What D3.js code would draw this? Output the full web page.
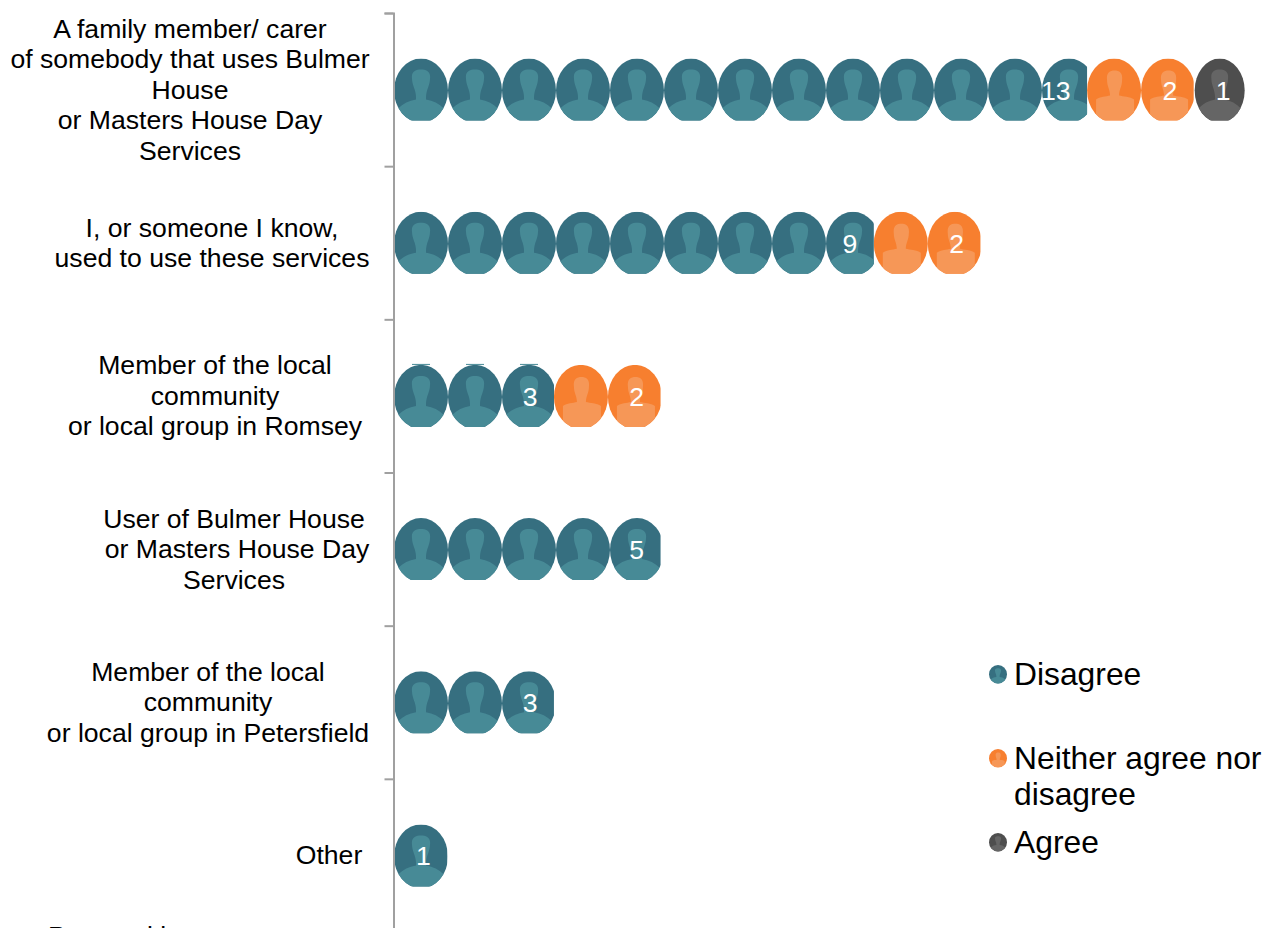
<!DOCTYPE html>
<html>
<head>
<meta charset="utf-8">
<script src="https://cdn.jsdelivr.net/npm/d3@7"></script>
<style>
  html, body { margin: 0; padding: 0; background: #fff; overflow: hidden; }
  text { font-family: "Liberation Sans", Arial, sans-serif; }
</style>
</head>
<body>
<script>
var categories = [
  ["A family member/ carer", "of somebody that uses Bulmer", "House", "or Masters House Day", "Services"],
  ["I, or someone I know,", "used to use these services"],
  ["Member of the local", "community", "or local group in Romsey"],
  ["User of Bulmer House", "or Masters House Day", "Services"],
  ["Member of the local", "community", "or local group in Petersfield"],
  ["Other"]
];
var seriesNames = ["Disagree", "Neither agree nor disagree", "Agree"];
var disagree = [13, 9, 3, 5, 3, 1];
var neither = [2, 2, 2, 0, 0, 0];
var agree = [1, 0, 0, 0, 0, 0];
var footnote = "Personal interest";

var width = 1275, height = 928;
var axisX = 394, tileW = 54, barH = 62;

// centre of each label block, the source has them all slightly different
var labelCentre = [[190, 190, 190, 190, 190], [212, 212], [215, 215, 215], [234, 237, 234], [208, 208, 208], [329]];

var colours = [
  { dark: "#366f80", light: "#478a96" },
  { dark: "#f77f2f", light: "#f69757" },
  { dark: "#4e4e4e", light: "#656565" }
];

var rows = categories.map(function(c, i) { return { i: i, lines: c, vals: [disagree[i], neither[i], agree[i]] }; });

var x = d3.scaleLinear().domain([0, 16]).range([axisX, 1247]);
var yEdge = d3.scaleLinear().domain([0, 6]).range([13, 932]);
var y = d3.scaleBand().domain(d3.range(6)).range([13, 932]);

var svg = d3.select("body").append("svg").attr("width", width).attr("height", height);
var defs = svg.append("defs");

var clipCount = 0;

// one person icon, drawn in a 54x62 tile
function drawIcon(g, s, w) {
  var k = w / tileW;
  var inner = g.append("g").attr("transform", "scale(" + k + ",1)");
  var clipId = "head-" + (clipCount++);
  defs.append("clipPath").attr("id", clipId).append("ellipse")
      .attr("cx", 27).attr("cy", 32).attr("rx", 27).attr("ry", 32);
  inner.append("ellipse").attr("cx", 27).attr("cy", 32).attr("rx", 27).attr("ry", 32)
      .attr("fill", colours[s].dark);
  var person = inner.append("g").attr("clip-path", "url(#" + clipId + ")").attr("fill", colours[s].light);
  if (s === 1) {
    person.append("path").attr("d", "M20,22 C19,14 23,12 27.5,12 C32,12 36,14 35,22 C35,28 32,31 32,37 C36,38 43,38 47,41 L47,62 L9,62 L9,41 C13,38 19,38 23,37 C23,31 20,28 20,22 Z");
  } else {
    person.append("path").attr("d", "M18,20 C17,13 22,11 27,11 C32,11 37,13 36,20 C36,27 32,31 32,39 L32,41 C39,42 45,45 50,50 L50,66 L4,66 L4,50 C9,45 15,42 22,41 L22,39 C22,31 18,27 18,20 Z");
  }
}

rows.forEach(function(r) {
  var top = y(r.i) + (y.bandwidth() - barH) / 2;
  var total = 0;
  r.vals.forEach(function(v, s) {
    if (!v) return;
    var x0 = x(total), x1 = x(total + v);
    total += v;
    var id = "bar-" + r.i + "-" + s;
    defs.append("clipPath").attr("id", id).append("rect")
        .attr("x", x0).attr("y", top).attr("width", x1 - x0).attr("height", barH);
    var bar = svg.append("g").attr("clip-path", "url(#" + id + ")");
    // grey icon is squeezed in the source, others are tiled at a fixed size and cut at the bar end
    var w = s === 2 ? 50 : tileW;
    var off = s === 2 ? 1 : 0;
    d3.range(s === 2 ? v : Math.ceil((x1 - x0) / w)).forEach(function(n) {
      drawIcon(bar.append("g").attr("transform", "translate(" + (x0 + off + n * w) + "," + top + ")"), s, w);
    });
    svg.append("text").attr("x", x1 - 16.5).attr("y", top + barH / 2 + 10)
        .attr("text-anchor", "end").attr("fill", "#fff").attr("font-size", 26.6)
        .text(v);
    // stray line above the icons in the third row
    if (r.i === 2 && s === 0) {
      d3.range(v).forEach(function(n) {
        svg.append("line").attr("x1", x0 + n * tileW + 18).attr("x2", x0 + n * tileW + 36)
            .attr("y1", top - 0.5).attr("y2", top - 0.5).attr("stroke", "#478a96");
      });
    }
  });

  // multi line category label
  var n = r.lines.length, midY = y(r.i) + y.bandwidth() / 2;
  r.lines.forEach(function(line, j) {
    svg.append("text").attr("x", labelCentre[r.i][j]).attr("text-anchor", "middle")
        .attr("y", midY + (j - (n - 1) / 2) * 30.5 + 9)
        .attr("font-size", 26.6).attr("fill", "#000").text(line);
  });
});

// axis with ticks on the band edges
var yAxis = d3.axisLeft(yEdge).tickValues(d3.range(7)).tickFormat("").tickSize(9);
var axisG = svg.append("g").attr("transform", "translate(" + (axisX - 0.5) + ",0)").call(yAxis);
axisG.selectAll("path,line").attr("stroke", "#a0a0a0").attr("stroke-width", 2);

// legend
var legendY = [674, 758, 842];
var legendLines = [["Disagree"], ["Neither agree nor", "disagree"], ["Agree"]];
seriesNames.forEach(function(name, s) {
  var g = svg.append("g").attr("transform", "translate(989," + (legendY[s] - 9) + ") scale(" + (18 / 54) + "," + (18 / 62) + ")");
  drawIcon(g, s, tileW);
  legendLines[s].forEach(function(line, j) {
    svg.append("text").attr("x", 1014).attr("y", legendY[s] + 11 + j * 36)
        .attr("font-size", 31.8).attr("fill", "#000").text(line);
  });
});

// last label, cut off by the bottom of the page
svg.append("text").attr("x", 48).attr("y", 945).attr("font-size", 26.6).attr("fill", "#000").text(footnote);
</script>
</body>
</html>
